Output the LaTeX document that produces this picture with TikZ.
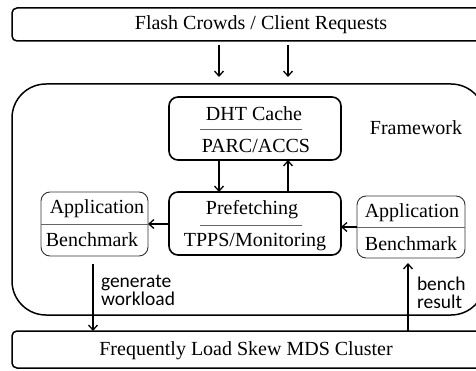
\documentclass[tikz,border=0pt]{standalone}
\usepackage{fontspec}
\setmainfont{Liberation Serif}
\newfontfamily\labelfont{Carlito}
\usetikzlibrary{arrows.meta,calc}
\begin{document}
\begin{tikzpicture}[x=1pt,y=-1pt,
  every node/.style={inner sep=0pt,outer sep=0pt},
  txt/.style={font=\fontsize{20}{22}\selectfont},
  lbl/.style={font=\labelfont\fontsize{19.5}{18}\selectfont,align=left,anchor=west},
  outerbox/.style={draw,line width=1.5pt,rounded corners=5pt},
  corebox/.style={draw,line width=1.6pt,rounded corners=9pt},
  appbox/.style={draw=black!80,line width=0.9pt,rounded corners=9pt},
  divider/.style={draw=black!60,line width=0.9pt},
  flow/.style={line width=1.5pt,-{Straight Barb[length=5pt,width=9pt,line width=1.3pt]}}]
\useasboundingbox (0,0) rectangle (476,371);
\clip (0,0) rectangle (476,371);

% client requests on top, MDS cluster at the bottom
\node[outerbox,minimum width=498,minimum height=33] (req) at (261,24.5) {};
\node[txt] (reqtxt) at (261,25) {Flash Crowds / Client Requests};
\node[outerbox,minimum width=490,minimum height=37] (mds) at (257,349.5) {};
\node[txt] (mdstxt) at (246,351) {Frequently Load Skew MDS Cluster};

% framework container
\node[draw,line width=1.5pt,rounded corners=34pt,minimum width=473,minimum height=231] (fw) at (248.5,199.5) {};
\node[txt] (fwtxt) at (416,128) {Framework};

% DHT cache
\node[corebox,minimum width=172,minimum height=63] (dht) at (255,128.5) {};
\node[txt] (dht1) at (254,114) {DHT Cache};
\node[txt] (dht2) at (256,146) {PARC/ACCS};
\draw[divider] ($(dht.center)+(-55,1)$) -- ($(dht.center)+(47,1)$);

% prefetching
\node[corebox,minimum width=172,minimum height=63] (pref) at (255,223.5) {};
\node[txt] (pref1) at (252,210) {Prefetching};
\node[txt] (pref2) at (255,242) {TPPS/Monitoring};
\draw[divider] ($(pref.center)+(-55,2)$) -- ($(pref.center)+(47,2)$);

% application benchmarks
\node[appbox,minimum width=107,minimum height=64] (appl) at (94.5,224) {};
\node[txt] (appl1) at (97,209) {Application};
\node[txt] (appl2) at (92,240) {Benchmark};
\draw[divider] (appl.west) -- (appl.east);

\node[appbox,minimum width=108,minimum height=62] (appr) at (411,227) {};
\node[txt] (appr1) at (412,213) {Application};
\node[txt] (appr2) at (411,244) {Benchmark};
\draw[divider] (appr.west) -- (appr.east);

% requests into the framework
\coordinate (in1) at (219,77);
\coordinate (in2) at (288,77);
\draw[flow] (req.south -| in1) ++(0,4) -- (in1);
\draw[flow] (req.south -| in2) ++(0,4) -- (in2);

% cache <-> prefetching
\draw[flow] (dht.south -| in1) -- (pref.north -| in1);
\draw[flow] (pref.north -| in2) -- (dht.south -| in2);

% prefetching <-> benchmarks
\draw[flow] (pref.west |- appl.east) -- (appl.east);
\draw[flow] (appr.west) -- (pref.east |- appr.west);

% workload and results
\coordinate (gw) at (93,264);
\coordinate (br) at (408,263);
\draw[flow] (gw) -- (mds.north -| gw);
\draw[flow] (mds.north -| br) -- (br);
\node[lbl] (gen) at (101,290) {generate\\workload};
\node[lbl] (res) at (417,293) {bench\\result};
\end{tikzpicture}
\end{document}
